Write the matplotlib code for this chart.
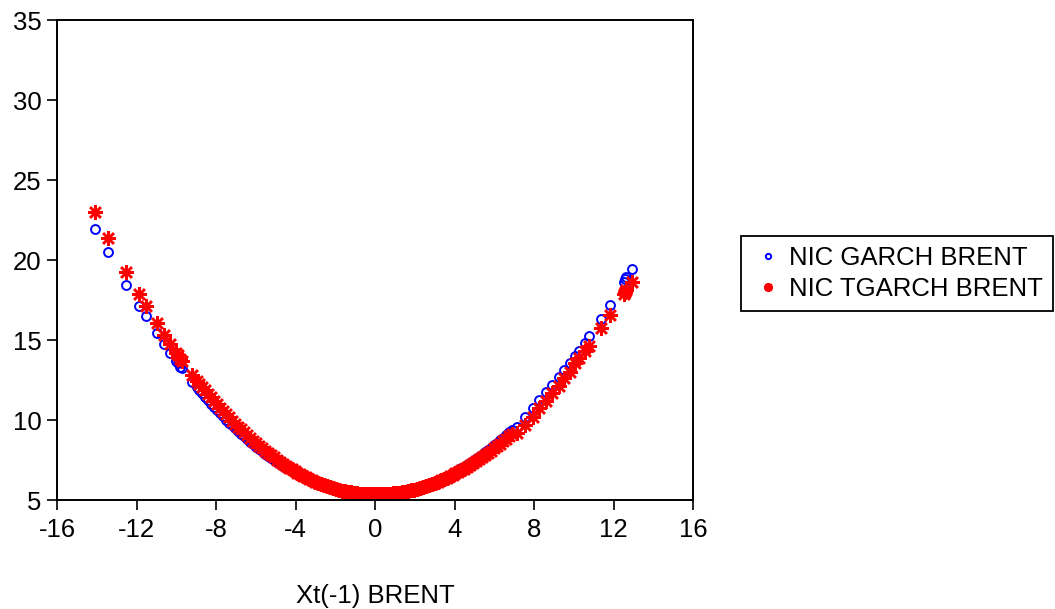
import matplotlib
matplotlib.use("Agg")
import matplotlib.pyplot as plt

plt.rcParams['font.family'] = ['Liberation Sans', 'DejaVu Sans']
plt.rcParams['axes.unicode_minus'] = False

# lagged Brent shock and the two news impact curves
xt_brent = [
    -14.09, -13.42, -12.51, -11.86, -11.52, -10.98, -10.62, -10.32, -10.00,
    -9.90, -9.80, -9.70, -9.21, -8.97,
    -8.85, -8.70, -8.55, -8.40, -8.25, -8.10, -7.95, -7.80, -7.65, -7.50,
    -7.35, -7.20, -7.05, -6.90, -6.75, -6.60, -6.45, -6.30, -6.15, -6.00,
    -5.85, -5.70, -5.55, -5.40, -5.25, -5.10, -4.95, -4.80, -4.65, -4.50,
    -4.35, -4.20, -4.05, -3.90, -3.75, -3.60, -3.45, -3.30, -3.15, -3.00,
    -2.85, -2.70, -2.55, -2.40, -2.25, -2.10, -1.95, -1.80, -1.65, -1.50,
    -1.35, -1.20, -1.05, -0.90, -0.75, -0.60, -0.45, -0.30, -0.15, 0.00,
    0.15, 0.30, 0.45, 0.60, 0.75, 0.90, 1.05, 1.20, 1.35, 1.50,
    1.65, 1.80, 1.95, 2.10, 2.25, 2.40, 2.55, 2.70, 2.85, 3.00,
    3.15, 3.30, 3.45, 3.60, 3.75, 3.90, 4.05, 4.20, 4.35, 4.50,
    4.65, 4.80, 4.95, 5.10, 5.25, 5.40, 5.55, 5.70, 5.85, 6.00,
    6.15, 6.30, 6.45, 6.60, 6.75, 6.90,
    7.14, 7.56, 7.93, 8.23, 8.60, 8.93, 9.24, 9.50, 9.80, 10.08, 10.25,
    10.55, 10.78, 11.37, 11.80, 12.52, 12.58, 12.64, 12.91,
]

nic_garch = [
    21.94, 20.48, 18.44, 17.14, 16.50, 15.42, 14.73, 14.17, 13.71,
    13.58, 13.33, 13.22, 12.40, 12.06,
    11.86, 11.66, 11.45, 11.23, 11.02, 10.81, 10.61, 10.41, 10.22, 10.03,
    9.84, 9.66, 9.48, 9.31, 9.14, 8.97, 8.81, 8.65, 8.49, 8.34,
    8.19, 8.04, 7.90, 7.77, 7.63, 7.50, 7.38, 7.26, 7.14, 7.02,
    6.91, 6.81, 6.70, 6.60, 6.51, 6.42, 6.33, 6.24, 6.16, 6.09,
    6.02, 5.95, 5.88, 5.82, 5.76, 5.71, 5.66, 5.61, 5.57, 5.53,
    5.49, 5.46, 5.43, 5.41, 5.39, 5.38, 5.37, 5.36, 5.35, 5.35,
    5.35, 5.36, 5.37, 5.38, 5.40, 5.42, 5.45, 5.48, 5.51, 5.55,
    5.59, 5.63, 5.68, 5.74, 5.79, 5.85, 5.91, 5.98, 6.05, 6.13,
    6.21, 6.29, 6.37, 6.46, 6.56, 6.66, 6.76, 6.86, 6.97, 7.08,
    7.20, 7.32, 7.44, 7.57, 7.70, 7.84, 7.98, 8.12, 8.27, 8.42,
    8.57, 8.73, 8.89, 9.06, 9.23, 9.40,
    9.58, 10.21, 10.73, 11.25, 11.73, 12.21, 12.69, 13.13, 13.54, 14.00,
    14.31, 14.83, 15.27, 16.31, 17.21, 18.63, 18.80, 18.96, 19.46,
]

nic_tgarch = [
    23.02, 21.39, 19.27, 17.86, 17.13, 16.06, 15.31, 14.75, 14.17,
    14.05, 13.84, 13.70, 12.83, 12.46,
    12.28, 12.09, 11.86, 11.63, 11.41, 11.19, 10.97, 10.76, 10.56, 10.36,
    10.16, 9.96, 9.77, 9.59, 9.41, 9.23, 9.05, 8.88, 8.71, 8.55,
    8.39, 8.24, 8.09, 7.95, 7.80, 7.66, 7.53, 7.40, 7.27, 7.15,
    7.03, 6.92, 6.81, 6.70, 6.60, 6.50, 6.41, 6.32, 6.23, 6.15,
    6.07, 6.00, 5.93, 5.86, 5.80, 5.74, 5.69, 5.64, 5.59, 5.55,
    5.51, 5.48, 5.45, 5.42, 5.40, 5.38, 5.37, 5.36, 5.35, 5.35,
    5.35, 5.36, 5.37, 5.38, 5.39, 5.41, 5.43, 5.46, 5.49, 5.53,
    5.57, 5.61, 5.65, 5.70, 5.75, 5.81, 5.87, 5.93, 6.00, 6.07,
    6.14, 6.22, 6.30, 6.38, 6.47, 6.56, 6.66, 6.76, 6.86, 6.96,
    7.07, 7.19, 7.30, 7.42, 7.54, 7.67, 7.80, 7.94, 8.08, 8.22,
    8.36, 8.51, 8.66, 8.82, 8.98, 9.14,
    9.17, 9.69, 10.21, 10.73, 11.19, 11.67, 12.14, 12.61, 13.02, 13.54,
    13.86, 14.31, 14.63, 15.73, 16.56, 17.88, 17.98, 18.12, 18.64,
]

x_ticks = [-16, -12, -8, -4, 0, 4, 8, 12, 16]
y_ticks = [5, 10, 15, 20, 25, 30, 35]

W, H = 1055, 609
fig = plt.figure(figsize=(W / 100, H / 100), dpi=100)
ax = fig.add_axes([57 / W, 109 / H, 636 / W, 480 / H])

ax.plot(xt_brent, nic_garch, linestyle='none', marker='o', markersize=6.4,
        markerfacecolor='none', markeredgecolor='#0000ff',
        markeredgewidth=1.4, label='NIC GARCH BRENT')
ax.plot(xt_brent, nic_tgarch, linestyle='none', marker=(8, 2, 0),
        markersize=10.8, markeredgecolor='#ff0000', markeredgewidth=1.8,
        color='#ff0000', label='NIC TGARCH BRENT')

ax.set_xlim(-16, 16)
ax.set_ylim(5, 35)
ax.set_xticks(x_ticks)
ax.set_yticks(y_ticks)
for s in ax.spines.values():
    s.set_linewidth(1.4)
ax.tick_params(direction='out', length=7, width=1.2, labelsize=18.5,
               top=False, right=False)
ax.tick_params(axis='x', pad=6)
ax.tick_params(axis='y', pad=4)
ax.set_xlabel('Xt(-1) BRENT', fontsize=18.5, labelpad=30)

leg = fig.legend(loc='upper left', bbox_to_anchor=(741 / W, 1 - 236 / H),
                 fontsize=18.5, frameon=True, fancybox=False,
                 edgecolor='black', framealpha=1, borderpad=0.4,
                 handletextpad=0.15, labelspacing=0.25, handlelength=1.3,
                 markerscale=0.6, borderaxespad=0)
leg.get_frame().set_linewidth(1.3)

fig.savefig('out.png', dpi=100)
